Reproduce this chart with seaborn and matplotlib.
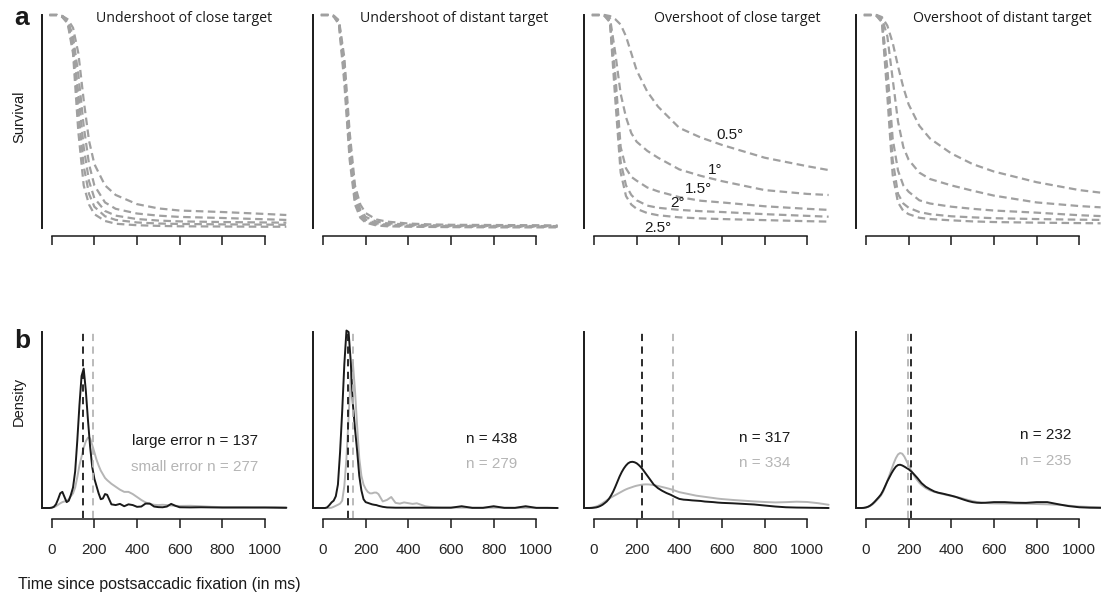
import numpy as np
import pandas as pd
import matplotlib
matplotlib.use("Agg")
import matplotlib.pyplot as plt
import seaborn as sns

sns.set_style("ticks")
plt.rcParams['font.family'] = ['Liberation Sans', 'DejaVu Sans']

#Panel titles and labels
titles = ["Undershoot of close target", "Undershoot of distant target",
          "Overshoot of close target", "Overshoot of distant target"]
deg_labels = ["0.5°", "1°", "1.5°", "2°", "2.5°"]
x_ticks = [0, 200, 400, 600, 800, 1000]

#Survival curves (time in ms), one list per error size 0.5 .. 2.5 deg
t_surv = [-10, 25, 50, 75, 100, 125, 150, 175, 200, 250, 300, 400, 500, 600, 800, 1000, 1100]
surv_under_close = [
    [1, 1, 0.995, 0.98, 0.94, 0.82, 0.6, 0.41, 0.3, 0.2, 0.155, 0.112, 0.092, 0.082, 0.075, 0.066, 0.061],
    [1, 1, 0.995, 0.975, 0.9, 0.72, 0.48, 0.3, 0.2, 0.12, 0.09, 0.068, 0.058, 0.052, 0.047, 0.041, 0.038],
    [1, 1, 0.995, 0.97, 0.87, 0.63, 0.38, 0.22, 0.14, 0.08, 0.058, 0.042, 0.035, 0.031, 0.028, 0.026, 0.025],
    [1, 1, 0.99, 0.965, 0.84, 0.55, 0.29, 0.16, 0.1, 0.055, 0.038, 0.026, 0.021, 0.019, 0.017, 0.016, 0.015],
    [1, 1, 0.99, 0.96, 0.82, 0.45, 0.2, 0.11, 0.065, 0.033, 0.02, 0.013, 0.01, 0.008, 0.007, 0.006, 0.006],
]
surv_under_distant = [
    [1, 1, 0.997, 0.975, 0.8, 0.45, 0.2, 0.11, 0.07, 0.04, 0.03, 0.021, 0.017, 0.015, 0.014, 0.013, 0.012],
    [1, 1, 0.996, 0.97, 0.77, 0.41, 0.17, 0.085, 0.052, 0.03, 0.022, 0.016, 0.013, 0.011, 0.01, 0.009, 0.009],
    [1, 1, 0.995, 0.965, 0.74, 0.38, 0.15, 0.07, 0.04, 0.022, 0.016, 0.012, 0.01, 0.009, 0.008, 0.007, 0.007],
    [1, 1, 0.994, 0.96, 0.71, 0.35, 0.13, 0.058, 0.032, 0.017, 0.012, 0.009, 0.007, 0.006, 0.005, 0.005, 0.005],
    [1, 1, 0.993, 0.955, 0.68, 0.32, 0.11, 0.048, 0.025, 0.012, 0.008, 0.006, 0.005, 0.004, 0.003, 0.003, 0.003],
]
surv_over_close = [
    [1, 1, 1, 0.995, 0.98, 0.955, 0.9, 0.82, 0.74, 0.64, 0.57, 0.47, 0.425, 0.39, 0.33, 0.29, 0.272],
    [1, 1, 0.998, 0.985, 0.82, 0.63, 0.52, 0.445, 0.405, 0.362, 0.33, 0.275, 0.245, 0.22, 0.178, 0.16, 0.155],
    [1, 1, 0.997, 0.975, 0.72, 0.38, 0.28, 0.24, 0.222, 0.19, 0.172, 0.145, 0.128, 0.12, 0.102, 0.09, 0.085],
    [1, 1, 0.996, 0.97, 0.66, 0.31, 0.2, 0.155, 0.13, 0.105, 0.095, 0.085, 0.079, 0.075, 0.065, 0.057, 0.053],
    [1, 1, 0.995, 0.965, 0.6, 0.26, 0.15, 0.11, 0.09, 0.07, 0.06, 0.05, 0.045, 0.042, 0.037, 0.032, 0.03],
]
surv_over_distant = [
    [1, 1, 1, 0.99, 0.95, 0.87, 0.76, 0.66, 0.58, 0.48, 0.42, 0.35, 0.3, 0.265, 0.215, 0.178, 0.166],
    [1, 1, 0.998, 0.985, 0.9, 0.7, 0.5, 0.38, 0.32, 0.26, 0.23, 0.2, 0.175, 0.152, 0.12, 0.103, 0.097],
    [1, 1, 0.997, 0.975, 0.75, 0.42, 0.27, 0.2, 0.17, 0.13, 0.115, 0.1, 0.09, 0.082, 0.072, 0.06, 0.056],
    [1, 1, 0.996, 0.97, 0.68, 0.32, 0.16, 0.115, 0.095, 0.075, 0.065, 0.055, 0.05, 0.046, 0.042, 0.039, 0.038],
    [1, 1, 0.995, 0.965, 0.62, 0.25, 0.12, 0.08, 0.065, 0.048, 0.042, 0.036, 0.031, 0.028, 0.025, 0.023, 0.022],
]
surv_all = [surv_under_close, surv_under_distant, surv_over_close, surv_over_distant]

#Where the degree labels sit in the overshoot-of-close panel (ms, survival)
deg_x = [575, 536, 427, 356, 234]
deg_y = [0.437, 0.272, 0.183, 0.117, 0.0]

#Density curves (density x 1000, time in ms)
t_dens = [-40, -30, -20, -10, 0, 10, 20, 30, 40, 50, 60, 70, 80, 90, 100, 110, 120, 130, 140, 150,
          160, 170, 180, 190, 200, 210, 220, 230, 240, 250, 260,
          280, 300, 320, 340, 360, 380, 400, 420, 440, 460, 480, 500, 520, 540, 560, 580, 600,
          650, 700, 750, 800, 850, 900, 950, 1000, 1050, 1100]
large_under_close = [0, 0, 0, 0, 0.02, 0.08, 0.25, 0.6, 1.0, 1.1, 0.75, 0.4, 0.5, 0.9, 1.4, 2.5, 4.6, 7.0, 9.0, 9.5,
                     8.0, 6.0, 4.2, 2.8, 2.0, 1.5, 1.0, 0.6, 0.65, 0.95, 0.9,
                     0.25, 0.2, 0.28, 0.12, 0.25, 0.2, 0.08, 0.1, 0.3, 0.3, 0.1, 0.06, 0.05, 0.1, 0.28, 0.15, 0.05,
                     0.04, 0.05, 0.04, 0.03, 0.03, 0.03, 0.03, 0.03, 0.02, 0.01]
small_under_close = [0, 0, 0, 0, 0.02, 0.06, 0.12, 0.22, 0.32, 0.4, 0.45, 0.5, 0.6, 0.8, 1.0, 1.4, 2.1, 2.9, 3.5, 4.1,
                     4.55, 4.8, 4.75, 4.3, 3.8, 3.3, 2.9, 2.55, 2.3, 2.05, 1.9,
                     1.65, 1.45, 1.25, 1.1, 1.1, 0.95, 0.75, 0.55, 0.38, 0.28, 0.22, 0.2, 0.22, 0.2, 0.17, 0.15, 0.14,
                     0.15, 0.12, 0.08, 0.06, 0.06, 0.06, 0.05, 0.05, 0.06, 0.05]
large_under_distant = [0, 0, 0, 0, 0, 0, 0.05, 0.2, 0.38, 0.5, 0.8, 1.6, 3.8, 6.6, 9.8, 12.1, 12.0, 10.0, 7.1, 5.4,
                       3.9, 2.2, 1.2, 0.6, 0.4, 0.35, 0.3, 0.25, 0.22, 0.2, 0.15,
                       0.08, 0.04, 0.03, 0.02, 0.02, 0.02, 0.02, 0.02, 0.02, 0.02, 0.02, 0.02, 0.02, 0.02, 0.02, 0.02, 0.02,
                       0.12, 0.01, 0.01, 0.12, 0.01, 0.01, 0.12, 0.01, 0.01, 0.0]
small_under_distant = [0, 0, 0, 0, 0, 0, 0, 0, 0.02, 0.08, 0.15, 0.22, 0.3, 0.5, 1.5, 3.4, 6.2, 9.0, 9.9, 8.0,
                       5.6, 3.4, 2.2, 1.6, 1.3, 1.1, 1.0, 1.0, 1.05, 1.05, 0.95,
                       0.45, 0.55, 0.75, 0.35, 0.3, 0.38, 0.33, 0.28, 0.32, 0.22, 0.12, 0.08, 0.05, 0.04, 0.03, 0.03, 0.03,
                       0.02, 0.02, 0.02, 0.02, 0.02, 0.01, 0.01, 0.01, 0.01, 0.0]
large_over_close = [0, 0, 0, 0.005, 0.02, 0.04, 0.08, 0.14, 0.22, 0.33, 0.45, 0.62, 0.85, 1.12, 1.45, 1.8, 2.15, 2.45, 2.7, 2.9,
                    3.05, 3.13, 3.15, 3.12, 3.05, 2.93, 2.78, 2.6, 2.4, 2.2, 2.0,
                    1.6, 1.35, 1.17, 1.02, 0.9, 0.75, 0.62, 0.57, 0.55, 0.52, 0.5, 0.48, 0.44, 0.42, 0.4, 0.37, 0.35,
                    0.32, 0.28, 0.24, 0.17, 0.1, 0.05, 0.03, 0.02, 0.01, 0.0]
small_over_close = [0, 0, 0.01, 0.03, 0.06, 0.1, 0.16, 0.24, 0.33, 0.43, 0.53, 0.63, 0.72, 0.8, 0.88, 0.96, 1.04, 1.12, 1.2, 1.27,
                    1.33, 1.38, 1.43, 1.48, 1.52, 1.55, 1.58, 1.6, 1.61, 1.61, 1.6,
                    1.56, 1.5, 1.43, 1.36, 1.28, 1.18, 1.08, 1.02, 0.96, 0.9, 0.84, 0.8, 0.76, 0.72, 0.68, 0.64, 0.61,
                    0.55, 0.5, 0.45, 0.41, 0.38, 0.4, 0.43, 0.41, 0.33, 0.22]
large_over_distant = [0, 0, 0, 0.01, 0.04, 0.09, 0.17, 0.28, 0.42, 0.58, 0.74, 0.92, 1.18, 1.5, 1.82, 2.1, 2.38, 2.62, 2.82, 2.93,
                      2.95, 2.9, 2.82, 2.73, 2.64, 2.52, 2.38, 2.22, 2.06, 1.88, 1.7,
                      1.45, 1.28, 1.13, 1.04, 0.98, 0.91, 0.84, 0.76, 0.66, 0.56, 0.47, 0.4, 0.36, 0.35, 0.36, 0.38, 0.4,
                      0.4, 0.36, 0.35, 0.4, 0.4, 0.26, 0.13, 0.05, 0.02, 0.01]
small_over_distant = [0, 0, 0, 0.01, 0.03, 0.07, 0.14, 0.24, 0.37, 0.52, 0.68, 0.85, 1.1, 1.45, 1.85, 2.25, 2.65, 3.05, 3.4, 3.65,
                      3.75, 3.7, 3.5, 3.2, 2.9, 2.6, 2.35, 2.1, 1.9, 1.72, 1.57,
                      1.35, 1.2, 1.1, 1.02, 0.95, 0.88, 0.82, 0.76, 0.7, 0.62, 0.54, 0.47, 0.41, 0.37, 0.34, 0.32, 0.31,
                      0.3, 0.3, 0.29, 0.27, 0.25, 0.22, 0.16, 0.1, 0.07, 0.05]
large_all = [large_under_close, large_under_distant, large_over_close, large_over_distant]
small_all = [small_under_close, small_under_distant, small_over_close, small_over_distant]

#Mean fixation durations (ms) and sample sizes
mean_large = [148, 119, 226, 211]
mean_small = [192, 142, 372, 198]
n_large = [137, 438, 317, 232]
n_small = [277, 279, 334, 235]

BLACK = "#1a1a1a"
GREY = "#b5b5b5"
SURV_GREY = "#a0a0a0"

W, H = 1101, 597
fig = plt.figure(figsize=(W / 100, H / 100), dpi=100)

def axes_px(left, top, width, height):
    return fig.add_axes([left / W, 1 - (top + height) / H, width / W, height / H])

col_left = [42.1, 313.4, 584.4, 856.4]
xmin, xmax = -45, 1105
ax_w = (xmax - xmin) * 0.2133

def style_axis(ax, offset):
    sns.despine(ax=ax)
    ax.spines['left'].set_linewidth(1.4)
    ax.spines['left'].set_color(BLACK)
    ax.spines['bottom'].set_linewidth(1.1)
    ax.spines['bottom'].set_color(BLACK)
    ax.spines['bottom'].set_position(('outward', offset))
    ax.spines['bottom'].set_bounds(0, 1000)
    ax.set_xlim(xmin, xmax)
    ax.set_xticks(x_ticks)
    ax.set_yticks([])
    ax.tick_params(axis='x', direction='out', length=6.5, width=1.1, color=BLACK)
    ax.set_xlabel("")
    ax.set_ylabel("")
    ax.patch.set_visible(False)

for i in range(4):
    #top row: survival
    ax = axes_px(col_left[i], 15, ax_w, 213)
    for curve in surv_all[i]:
        sns.lineplot(x=t_surv, y=curve, ax=ax, color=SURV_GREY, lw=1.6,
                     linestyle=(0, (3.4, 2.0)), clip_on=False)
    ax.set_ylim(0, 1)
    style_axis(ax, 6)
    ax.set_xticklabels([])
    if i == 2:
        for lab, lx, ly in zip(deg_labels, deg_x, deg_y):
            ax.text(lx, ly, lab, fontsize=11, color=BLACK, ha='left', va='center')

    #bottom row: density
    ax = axes_px(col_left[i], 332, ax_w, 176)
    sns.lineplot(x=t_dens, y=small_all[i], ax=ax, color=GREY, lw=1.4, clip_on=False)
    sns.lineplot(x=t_dens, y=large_all[i], ax=ax, color=BLACK, lw=1.4, clip_on=False)
    ax.axvline(mean_small[i], ymin=-0.055, ymax=1, color=GREY, lw=1.3,
               linestyle=(0, (4, 3)), clip_on=False)
    ax.axvline(mean_large[i], ymin=-0.055, ymax=1, color=BLACK, lw=1.3,
               linestyle=(0, (4, 3)), clip_on=False)
    ax.set_ylim(0, 12)
    style_axis(ax, 8)
    ax.set_xticklabels([str(v) for v in x_ticks], fontsize=11)
    ax.tick_params(axis='x', pad=11)
    ax.set_xlim(xmin, xmax)
    n_x = [967, 909, 919, 961][i]
    n_y = [(4.57, 2.8), (4.7, 3.0), (4.77, 3.07), (4.98, 3.2)][i]
    if i == 0:
        big_txt = "large error n = %d" % n_large[i]
        small_txt = "small error n = %d" % n_small[i]
    else:
        big_txt = "n = %d" % n_large[i]
        small_txt = "n = %d" % n_small[i]
    ax.text(n_x, n_y[0], big_txt, fontsize=11, color=BLACK, ha='right', va='center')
    ax.text(n_x, n_y[1], small_txt, fontsize=11, color=GREY, ha='right', va='center')

#Panel titles
title_cx = [184, 454, 737, 1002]
for t, cx in zip(titles, title_cx):
    fig.text(cx / W, 1 - 18 / H, t, fontsize=10.2, family=['Open Sans', 'DejaVu Sans'],
             color=BLACK, ha='center', va='center')

fig.text(14 / W, 1 - 25 / H, "a", fontsize=19, fontweight='bold', color=BLACK, ha='left', va='baseline')
fig.text(14 / W, 1 - 348 / H, "b", fontsize=19, fontweight='bold', color=BLACK, ha='left', va='baseline')
fig.text(19 / W, 1 - 117 / H, "Survival", fontsize=10.5, rotation=90, color=BLACK, ha='center', va='center')
fig.text(19 / W, 1 - 401 / H, "Density", fontsize=10.5, rotation=90, color=BLACK, ha='center', va='center')
fig.text(18 / W, 1 - 585 / H, "Time since postsaccadic fixation (in ms)", fontsize=11.5,
         color=BLACK, ha='left', va='center')

fig.savefig("out.png", dpi=100)
